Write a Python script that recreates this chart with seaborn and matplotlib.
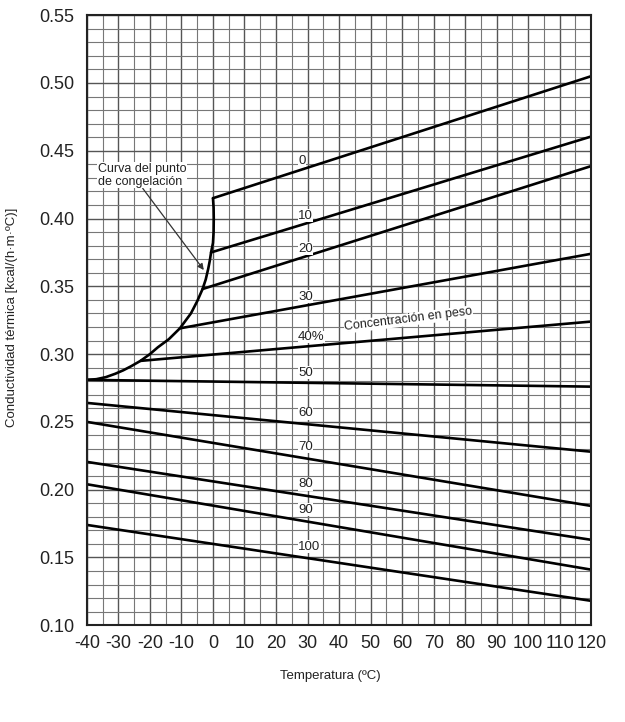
import numpy as np
import pandas as pd
import matplotlib
matplotlib.use("Agg")
import matplotlib.pyplot as plt
from matplotlib.ticker import MultipleLocator
import seaborn as sns

# concentration (% by weight) and straight-line end points
conc = [0, 10, 20, 30, 40, 50, 60, 70, 80, 90, 100]
t_start = [0.0, -0.6, -3.3, -10.5, -23.0, -40.0, -40.0, -40.0, -40.0, -40.0, -40.0]
k_start = [0.415, 0.375, 0.348, 0.319, 0.295, 0.281, 0.264, 0.250, 0.2205, 0.204, 0.174]
t_end = [120] * 11
k_end = [0.505, 0.4605, 0.4387, 0.374, 0.324, 0.276, 0.228, 0.188, 0.163, 0.141, 0.118]
conc_labels = ["0", "10", "20", "30", "40%", "50", "60", "70", "80", "90", "100"]

# freezing point curve
freeze_t = [0.0, 0.2, 0.25, 0.2, 0.0, -0.6, -1.0, -1.5, -2.3, -3.3, -5.0, -7.0,
            -10.5, -14.0, -17.5, -20.0, -23.0, -26.0, -28.5, -31.0, -34.0, -37.0, -40.0]
freeze_k = [0.415, 0.408, 0.400, 0.390, 0.382, 0.375, 0.369, 0.363, 0.355, 0.348, 0.339, 0.330,
            0.319, 0.311, 0.305, 0.300, 0.295, 0.291, 0.288, 0.2855, 0.283, 0.2815, 0.281]

x_ticks = list(range(-40, 121, 10))
y_ticks = [0.10, 0.15, 0.20, 0.25, 0.30, 0.35, 0.40, 0.45, 0.50, 0.55]

rows = []
for c, t0, k0, t1, k1 in zip(conc, t_start, k_start, t_end, k_end):
    rows.append({"conc": c, "T": t0, "k": k0})
    rows.append({"conc": c, "T": t1, "k": k1})
df = pd.DataFrame(rows)

sns.set_style("white")
plt.rcParams["font.family"] = ["Liberation Sans", "DejaVu Sans"]
plt.rcParams["axes.unicode_minus"] = False

fig = plt.figure(figsize=(6.25, 7.22), dpi=100)
ax = fig.add_axes([0.139, 0.134, 0.807, 0.845])

# grid
ax.set_xlim(-40, 120)
ax.set_ylim(0.10, 0.55)
ax.xaxis.set_major_locator(MultipleLocator(10))
ax.xaxis.set_minor_locator(MultipleLocator(5))
ax.yaxis.set_major_locator(MultipleLocator(0.05))
ax.yaxis.set_minor_locator(MultipleLocator(0.01))
ax.grid(which="major", color="#555555", linewidth=1.0)
ax.grid(which="minor", color="#777777", linewidth=0.8)
ax.set_axisbelow(True)

sns.lineplot(data=df, x="T", y="k", units="conc", estimator=None,
             color="black", linewidth=1.9, ax=ax, legend=False)
sns.lineplot(x=freeze_t, y=freeze_k, sort=False, estimator=None,
             color="black", linewidth=1.9, ax=ax)

# concentration labels along each line
label_t = 27
for lab, t0, k0, t1, k1 in zip(conc_labels, t_start, k_start, t_end, k_end):
    k = k0 + (k1 - k0) * (label_t - t0) / (t1 - t0)
    ax.annotate(lab, (label_t, k), xytext=(0, 3), textcoords="offset points",
                ha="left", va="bottom", fontsize=9.5, color="#222222",
                bbox=dict(facecolor="white", edgecolor="none", pad=0.3))

# "Concentración en peso" along the 40 % line
t_c = 62
k_c = k_start[4] + (k_end[4] - k_start[4]) * (t_c - t_start[4]) / (t_end[4] - t_start[4])
ax.annotate("Concentración en peso", (t_c, k_c), xytext=(0, 3), textcoords="offset points",
            ha="center", va="bottom", fontsize=9, rotation=7, color="#222222",
            bbox=dict(facecolor="white", edgecolor="none", pad=0.3))

# freezing curve note with arrow
ax.annotate("Curva del punto\nde congelación", xy=(-2.9, 0.362), xytext=(-36.5, 0.432),
            ha="left", va="center", fontsize=9, color="#222222", linespacing=1.1,
            bbox=dict(facecolor="white", edgecolor="none", pad=0.5),
            arrowprops=dict(arrowstyle="-|>", color="#333333", lw=0.9,
                            shrinkA=0, shrinkB=0, relpos=(0.5, 0.0)))

ax.set_xticks(x_ticks)
ax.set_yticks(y_ticks)
ax.set_xticklabels([str(t) for t in x_ticks])
ax.set_yticklabels([f"{v:.2f}" for v in y_ticks])
ax.tick_params(axis="both", which="both", length=0, labelsize=13, colors="#222222")
ax.tick_params(axis="x", pad=7)
ax.tick_params(axis="y", pad=9)

for s in ax.spines.values():
    s.set_visible(True)
    s.set_color("#222222")
    s.set_linewidth(1.5)

ax.set_xlabel("")
ax.set_ylabel("")
fig.text(0.528, 0.064, "Temperatura (ºC)", ha="center", va="center", fontsize=9.5, color="#222222")
fig.text(0.020, 0.56, "Conductividad térmica [kcal/(h·m·ºC)]", ha="center", va="center",
         rotation=90, fontsize=9.5, color="#222222")

fig.savefig("out.png", dpi=100, facecolor="white")
